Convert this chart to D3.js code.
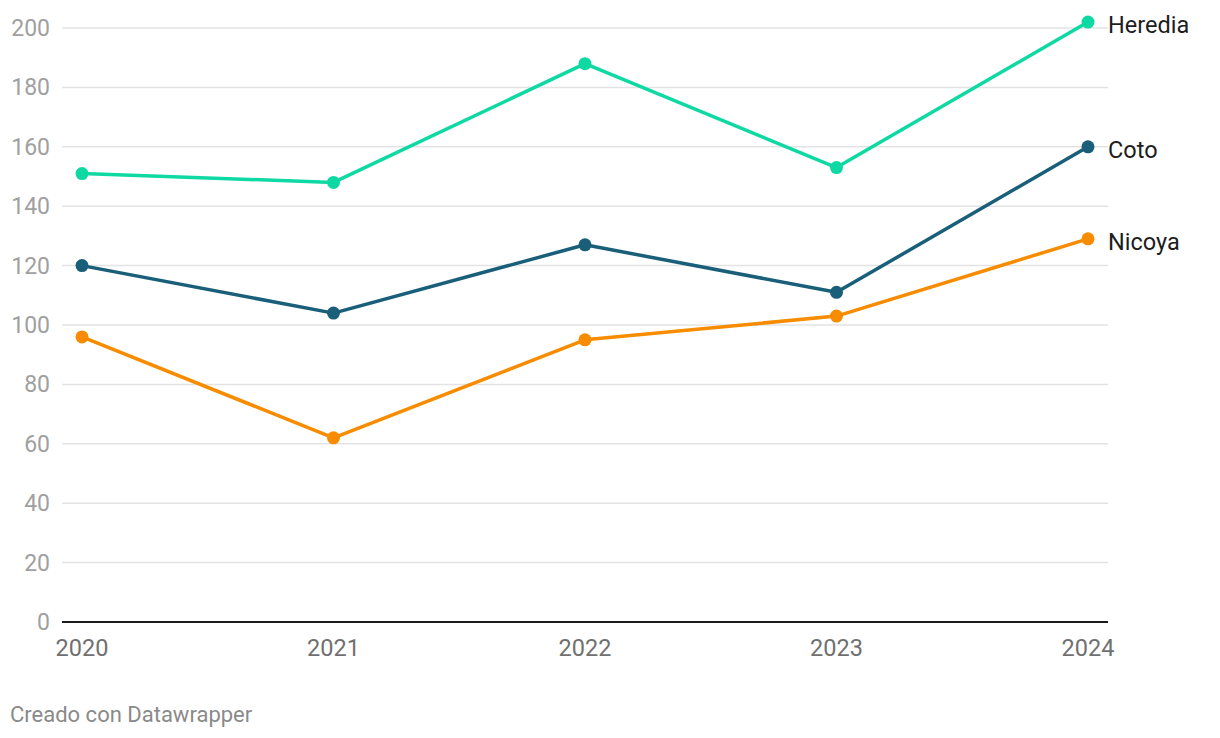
<!DOCTYPE html>
<html>
<head>
<meta charset="utf-8">
<script src="https://cdn.jsdelivr.net/npm/d3@7"></script>
<style>
  body { margin: 0; background: #fff; font-family: Roboto, sans-serif; }
</style>
</head>
<body>
<svg id="chart" width="1220" height="738"></svg>
<script>
// data
const years = [2020, 2021, 2022, 2023, 2024];
const heredia = [151, 148, 188, 153, 202];
const coto = [120, 104, 127, 111, 160];
const nicoya = [96, 62, 95, 103, 129];
const yTicks = [0, 20, 40, 60, 80, 100, 120, 140, 160, 180, 200];

const series = [
    { name: "Heredia", values: heredia, color: "#0fd9a2" },
    { name: "Coto", values: coto, color: "#195f7a" },
    { name: "Nicoya", values: nicoya, color: "#f78c00" },
];

const svg = d3.select("#chart");

const x = d3.scaleLinear().domain([2020, 2024]).range([82, 1088]);
const y = d3.scaleLinear().domain([0, 200]).range([622, 28]);

// grid lines
svg.append("g")
    .selectAll("line")
    .data(yTicks.filter((d) => d > 0))
    .enter()
    .append("line")
    .attr("x1", 62)
    .attr("x2", 1108)
    .attr("y1", (d) => y(d))
    .attr("y2", (d) => y(d))
    .attr("stroke", "#e3e3e3")
    .attr("stroke-width", 1.5);

// y labels
svg.append("g")
    .selectAll("text")
    .data(yTicks)
    .enter()
    .append("text")
    .attr("x", 50)
    .attr("y", (d) => y(d))
    .attr("dy", "0.35em")
    .attr("text-anchor", "end")
    .style("font-size", "23px")
    .style("fill", "#a0a0a0")
    .text((d) => d);

// baseline
svg.append("line")
    .attr("x1", 62)
    .attr("x2", 1108)
    .attr("y1", y(0))
    .attr("y2", y(0))
    .attr("stroke", "#1a1a1a")
    .attr("stroke-width", 2);

// x labels
svg.append("g")
    .selectAll("text")
    .data(years)
    .enter()
    .append("text")
    .attr("x", (d) => x(d))
    .attr("y", 648)
    .attr("dy", "0.35em")
    .attr("text-anchor", "middle")
    .style("font-size", "23.5px")
    .style("fill", "#707070")
    .text((d) => d);

const line = d3
    .line()
    .x((d, i) => x(years[i]))
    .y((d) => y(d));

const g = svg.selectAll(".serie").data(series).enter().append("g");

g.append("path")
    .attr("fill", "none")
    .attr("stroke", (d) => d.color)
    .attr("stroke-width", 3.5)
    .attr("stroke-linejoin", "round")
    .attr("d", (d) => line(d.values));

g.selectAll("circle")
    .data((d) => d.values.map((v, i) => ({ v: v, i: i, color: d.color })))
    .enter()
    .append("circle")
    .attr("cx", (d) => x(years[d.i]))
    .attr("cy", (d) => y(d.v))
    .attr("r", 6.5)
    .attr("fill", (d) => d.color);

// end labels
g.append("text")
    .attr("x", x(2024) + 20)
    .attr("y", (d) => y(d.values[d.values.length - 1]) + 3)
    .attr("dy", "0.35em")
    .style("font-size", "23.5px")
    .style("fill", "#1d1d1d")
    .text((d) => d.name);

// footer
svg.append("text")
    .attr("x", 10)
    .attr("y", 714)
    .attr("dy", "0.35em")
    .style("font-size", "22px")
    .style("fill", "#8a8a8a")
    .text("Creado con Datawrapper");
</script>
</body>
</html>
